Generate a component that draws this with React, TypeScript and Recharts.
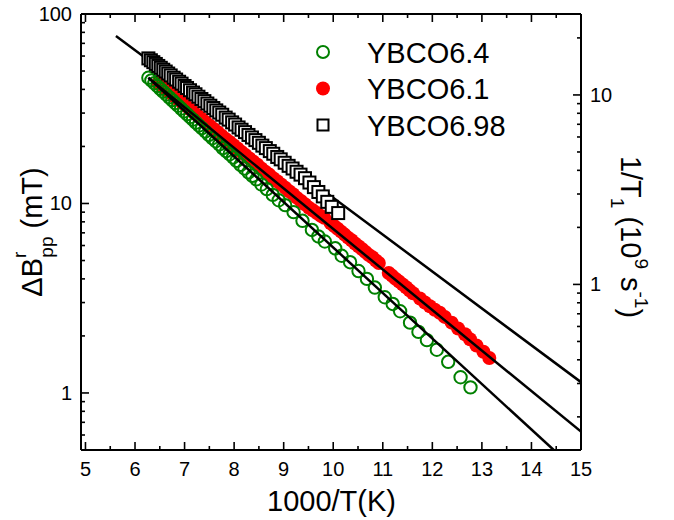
import React from 'react'
import { ScatterChart, Scatter, XAxis, YAxis, Legend } from 'recharts'

// YBCO6.4 (green open circles)
const ybco64X = [6.27, 6.33, 6.39, 6.45, 6.51, 6.57, 6.63, 6.69, 6.75, 6.81, 6.87, 6.93, 6.99, 7.05, 7.11, 7.17, 7.23, 7.29, 7.35, 7.42, 7.49, 7.56, 7.63, 7.70, 7.77, 7.84, 7.91, 7.98, 8.05, 8.13, 8.21, 8.29, 8.37, 8.45, 8.55, 8.66, 8.78, 8.90, 9.03, 9.20, 9.38, 9.57, 9.70, 9.83, 10.04, 10.17, 10.34, 10.51, 10.68, 10.84, 11.04, 11.20, 11.35, 11.55, 11.72, 11.89, 12.09, 12.32, 12.57, 12.77]
const ybco64Y = [46.1, 44.6, 43.1, 41.7, 40.3, 38.9, 37.6, 36.3, 35.1, 33.9, 32.8, 31.7, 30.6, 29.6, 28.6, 27.7, 26.7, 25.8, 25.0, 24.0, 23.0, 22.1, 21.3, 20.5, 19.6, 18.9, 18.2, 17.5, 16.8, 16.0, 15.3, 14.6, 14.0, 13.4, 12.6, 11.9, 11.1, 10.4, 9.8, 9.0, 8.1, 7.25, 6.7, 6.3, 5.8, 5.3, 4.9, 4.4, 4.0, 3.6, 3.2, 2.95, 2.7, 2.35, 2.1, 1.9, 1.69, 1.46, 1.21, 1.07]

// YBCO6.1 (red filled circles)
const ybco61X = [6.47, 6.55, 6.63, 6.71, 6.79, 6.87, 6.95, 7.03, 7.11, 7.19, 7.27, 7.35, 7.43, 7.51, 7.59, 7.67, 7.75, 7.83, 7.91, 7.99, 8.07, 8.15, 8.23, 8.31, 8.39, 8.47, 8.55, 8.63, 8.71, 8.79, 8.87, 8.95, 9.03, 9.11, 9.19, 9.27, 9.35, 9.43, 9.51, 9.59, 9.67, 9.75, 9.82,
  9.95, 10.02, 10.09, 10.16, 10.23, 10.30, 10.37, 10.44, 10.51, 10.58, 10.65, 10.72, 10.79, 10.86, 10.92,
  11.12, 11.19, 11.26, 11.33, 11.40, 11.47, 11.54, 11.61,
  11.75, 11.85, 11.95, 12.05, 12.15, 12.25, 12.39, 12.52, 12.66, 12.76, 12.89, 13.03, 13.15]
const ybco61Y = [43.2, 41.5, 39.8, 38.3, 36.8, 35.4, 34.0, 32.7, 31.4, 30.2, 29.0, 27.9, 26.8, 25.7, 24.7, 23.8, 22.8, 21.9, 21.1, 20.3, 19.5, 18.7, 18.0, 17.3, 16.6, 16.0, 15.3, 14.7, 14.2, 13.6, 13.1, 12.6, 12.1, 11.6, 11.2, 10.7, 10.3, 9.9, 9.5, 9.2, 8.9, 8.6, 8.4,
  7.85, 7.6, 7.35, 7.1, 6.85, 6.6, 6.4, 6.15, 5.95, 5.75, 5.55, 5.35, 5.2, 5.0, 4.85,
  4.3, 4.15, 4.0, 3.87, 3.74, 3.61, 3.48, 3.36,
  3.15, 3.0, 2.87, 2.75, 2.65, 2.52, 2.35, 2.19, 2.04, 1.92, 1.78, 1.65, 1.53]

// YBCO6.98 (open squares)
const ybco698X = [6.27, 6.32, 6.37, 6.42, 6.47, 6.52, 6.57, 6.62, 6.67, 6.72, 6.78, 6.83, 6.89, 6.94, 7.00, 7.05, 7.11, 7.17, 7.22, 7.28, 7.34, 7.40, 7.46, 7.52, 7.58, 7.64, 7.70, 7.76, 7.83, 7.89, 7.96, 8.02, 8.09, 8.15, 8.22, 8.29, 8.36, 8.43, 8.50, 8.57, 8.64, 8.72, 8.79, 8.87, 8.94, 9.02, 9.10, 9.18, 9.26, 9.34, 9.43, 9.52, 9.61, 9.70, 9.79, 9.88, 9.97, 10.10]
const ybco698Y = [58.3, 57.0, 55.7, 54.5, 53.2, 52.0, 50.8, 49.7, 48.5, 47.4, 46.1, 45.1, 43.9, 42.9, 41.7, 40.7, 39.6, 38.5, 37.7, 36.6, 35.6, 34.7, 33.7, 32.8, 31.9, 31.0, 30.2, 29.4, 28.4, 27.7, 26.8, 26.1, 25.2, 24.5, 23.8, 23.0, 22.3, 21.6, 20.9, 20.2, 19.6, 18.9, 18.3, 17.6, 17.1, 16.4, 15.8, 15.3, 14.7, 14.2, 13.6, 12.9, 12.2, 11.5, 10.9, 10.2, 9.6, 8.9]

// straight (exponential) fit lines, end points only
const fitTopX = [5.615, 15]
const fitTopY = [76.6, 1.14]
const fitMidX = [6.27, 15]
const fitMidY = [46.1, 0.625]
const fitLowX = [6.27, 14.45]
const fitLowY = [46.1, 0.5]

const seriesNames = ['YBCO6.4', 'YBCO6.1', 'YBCO6.98']

const xTicks = [5, 5.5, 6, 6.5, 7, 7.5, 8, 8.5, 9, 9.5, 10, 10.5, 11, 11.5, 12, 12.5, 13, 13.5, 14, 14.5, 15]
const leftTicks = [0.5, 0.6, 0.7, 0.8, 0.9, 1, 2, 3, 4, 5, 6, 7, 8, 9, 10, 20, 30, 40, 50, 60, 70, 80, 90, 100]
const leftMajor = [1, 10, 100]
const rightTicks = [0.2, 0.3, 0.4, 0.5, 0.6, 0.7, 0.8, 0.9, 1, 2, 3, 4, 5, 6, 7, 8, 9, 10, 20]
const rightMajor = [1, 10]

const FONT = '"Liberation Sans", Arial, sans-serif'
const GREEN = '#008000'
const RED = '#ff0000'

const toPoints = (xs: number[], ys: number[]) => xs.map((x, i) => ({ x, y: ys[i] }))

const BottomTick = ({ x, y, payload }: any) => {
  const major = Number.isInteger(payload.value)
  return (
    <g>
      <line x1={x} x2={x} y1={y} y2={y - (major ? 8 : 4)} stroke="#000" strokeWidth={1.6} />
      {major && (
        <text x={x} y={y + 26} textAnchor="middle" fontSize={20} fontFamily={FONT} fill="#000">
          {payload.value}
        </text>
      )}
    </g>
  )
}

const TopTick = ({ x, y, payload }: any) => {
  const major = Number.isInteger(payload.value)
  return <line x1={x} x2={x} y1={y} y2={y + (major ? 8 : 4)} stroke="#000" strokeWidth={1.6} />
}

const LeftTick = ({ x, y, payload }: any) => {
  const major = leftMajor.includes(payload.value)
  return (
    <g>
      <line x1={x} x2={x + (major ? 8 : 4)} y1={y} y2={y} stroke="#000" strokeWidth={1.6} />
      {major && (
        <text x={x - 9} y={y + 7} textAnchor="end" fontSize={20} fontFamily={FONT} fill="#000">
          {payload.value}
        </text>
      )}
    </g>
  )
}

const RightTick = ({ x, y, payload }: any) => {
  const major = rightMajor.includes(payload.value)
  return (
    <g>
      <line x1={x} x2={x - (major ? 8 : 4)} y1={y} y2={y} stroke="#000" strokeWidth={1.6} />
      {major && (
        <text x={x + 9} y={y + 7} textAnchor="start" fontSize={20} fontFamily={FONT} fill="#000">
          {payload.value}
        </text>
      )}
    </g>
  )
}

const OpenCircle = ({ cx, cy }: any) => <circle cx={cx} cy={cy} r={6.2} fill="none" stroke={GREEN} strokeWidth={2} />
const FilledCircle = ({ cx, cy }: any) => <circle cx={cx} cy={cy} r={7} fill={RED} />
const OpenSquare = ({ cx, cy }: any) => (
  <rect x={cx - 6} y={cy - 6} width={12} height={12} fill="#fff" stroke="#000" strokeWidth={2} />
)
const NoShape = () => <g />

const renderLegend = () => (
  <svg width={260} height={120}>
    {seriesNames.map((name, i) => {
      const cy = 22 + i * 36.5
      return (
        <g key={name}>
          {i === 0 && <circle cx={23} cy={cy} r={6} fill="none" stroke={GREEN} strokeWidth={2} />}
          {i === 1 && <circle cx={23} cy={cy} r={7} fill={RED} />}
          {i === 2 && <rect x={17.5} y={cy - 5.5} width={11} height={11} fill="#fff" stroke="#000" strokeWidth={2} />}
          <text x={67} y={cy + 10.5} fontSize={29} fontFamily={FONT} fill="#000">{name}</text>
        </g>
      )
    })}
  </svg>
)

export default function App() {
  const axisLine = { stroke: '#000', strokeWidth: 2 }
  return (
    <div style={{ position: 'absolute', left: 0, top: 0, width: 674, height: 520, background: '#fff', fontFamily: FONT }}>
      <ScatterChart width={674} height={520} margin={{ top: 0, right: 0, bottom: 0, left: 0 }}>
        <XAxis xAxisId="main" type="number" dataKey="x" domain={[4.91, 15]} ticks={xTicks} interval={0}
          allowDataOverflow height={70} tickSize={0} tickMargin={0} axisLine={axisLine} tickLine={false} tick={<BottomTick />} />
        <XAxis xAxisId="top" orientation="top" type="number" dataKey="x" domain={[4.91, 15]} ticks={xTicks} interval={0}
          allowDataOverflow height={14} tickSize={0} tickMargin={0} axisLine={axisLine} tickLine={false} tick={<TopTick />} />
        <YAxis yAxisId="main" type="number" dataKey="y" scale="log" domain={[0.5, 100]} ticks={leftTicks} interval={0}
          allowDataOverflow width={81} tickSize={0} tickMargin={0} axisLine={axisLine} tickLine={false} tick={<LeftTick />} />
        <YAxis yAxisId="right" orientation="right" type="number" dataKey="y" scale="log" domain={[0.1337, 26.74]} ticks={rightTicks} interval={0}
          allowDataOverflow width={93} tickSize={0} tickMargin={0} axisLine={axisLine} tickLine={false} tick={<RightTick />} />

        <Scatter name={seriesNames[1]} xAxisId="main" yAxisId="main" data={toPoints(ybco61X, ybco61Y)} shape={FilledCircle} isAnimationActive={false} />
        <Scatter name={seriesNames[0]} xAxisId="main" yAxisId="main" data={toPoints(ybco64X, ybco64Y)} shape={OpenCircle} isAnimationActive={false} />
        <Scatter xAxisId="main" yAxisId="main" data={toPoints(fitTopX, fitTopY)} line={{ stroke: '#000', strokeWidth: 2.5 }} shape={NoShape} isAnimationActive={false} />
        <Scatter xAxisId="main" yAxisId="main" data={toPoints(fitMidX, fitMidY)} line={{ stroke: '#000', strokeWidth: 2.5 }} shape={NoShape} isAnimationActive={false} />
        <Scatter xAxisId="main" yAxisId="main" data={toPoints(fitLowX, fitLowY)} line={{ stroke: '#000', strokeWidth: 2.5 }} shape={NoShape} isAnimationActive={false} />
        <Scatter name={seriesNames[2]} xAxisId="main" yAxisId="main" data={toPoints(ybco698X, ybco698Y)} shape={OpenSquare} isAnimationActive={false} />

        <Legend layout="vertical" align="center" verticalAlign="middle" content={renderLegend}
          wrapperStyle={{ left: 300, top: 30, width: 260, height: 120 }} />
      </ScatterChart>

      {/* axis titles */}
      <svg width={674} height={520} style={{ position: 'absolute', left: 0, top: 0, pointerEvents: 'none' }}>
        <text x={331.5} y={511} textAnchor="middle" fontSize={29} fontFamily={FONT} fill="#000">1000/T(K)</text>
        <text transform="translate(42,232) rotate(-90)" textAnchor="middle" fontSize={29} fontFamily={FONT} fill="#000">
          <tspan>ΔB</tspan>
          <tspan fontSize={19} dy={-16}>r</tspan>
          <tspan fontSize={19} dx={-6} dy={27}>pp</tspan>
          <tspan dy={-11}> (mT)</tspan>
        </text>
        <text transform="translate(621,237) rotate(90)" textAnchor="middle" fontSize={29} fontFamily={FONT} fill="#000">
          <tspan>1/T</tspan>
          <tspan fontSize={19} dy={10}>1</tspan>
          <tspan dy={-10}> (10</tspan>
          <tspan fontSize={19} dy={-14}>9</tspan>
          <tspan dy={14}> s</tspan>
          <tspan fontSize={19} dy={-14}>-1</tspan>
          <tspan dy={14}>)</tspan>
        </text>
      </svg>
    </div>
  )
}
